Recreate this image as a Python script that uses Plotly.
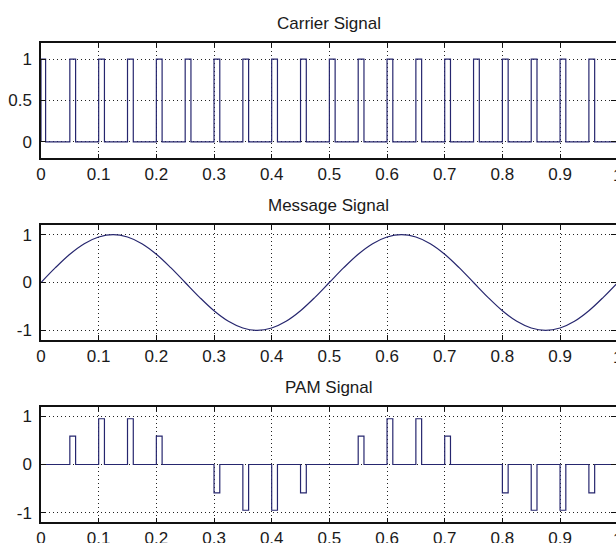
import plotly.graph_objects as go

# Carrier: rectangular pulse train (start / end of each pulse, unit height)
PULSE_START = [0.00, 0.05, 0.10, 0.15, 0.20, 0.25, 0.30, 0.35, 0.40, 0.45,
               0.50, 0.55, 0.60, 0.65, 0.70, 0.75, 0.80, 0.85, 0.90, 0.95]
PULSE_END = [0.008, 0.06, 0.11, 0.16, 0.21, 0.26, 0.31, 0.36, 0.41, 0.46,
             0.51, 0.56, 0.61, 0.66, 0.71, 0.76, 0.81, 0.86, 0.91, 0.96]
CARRIER_AMP = [1.0] * len(PULSE_START)

# Message signal samples
MSG_T = [0.000, 0.025, 0.050, 0.075, 0.100, 0.125, 0.150, 0.175, 0.200, 0.225,
         0.250, 0.275, 0.300, 0.325, 0.350, 0.375, 0.400, 0.425, 0.450, 0.475,
         0.500, 0.525, 0.550, 0.575, 0.600, 0.625, 0.650, 0.675, 0.700, 0.725,
         0.750, 0.775, 0.800, 0.825, 0.850, 0.875, 0.900, 0.925, 0.950, 0.975,
         1.000]
MSG_V = [0.00, 0.31, 0.59, 0.81, 0.95, 1.00, 0.95, 0.81, 0.59, 0.31,
         0.00, -0.31, -0.59, -0.81, -0.95, -1.00, -0.95, -0.81, -0.59, -0.31,
         0.00, 0.31, 0.59, 0.81, 0.95, 1.00, 0.95, 0.81, 0.59, 0.31,
         0.00, -0.31, -0.59, -0.81, -0.95, -1.00, -0.95, -0.81, -0.59, -0.31,
         0.00]

# PAM: flat-top pulse heights, one per carrier pulse
PAM_AMP = [0.00, 0.59, 0.95, 0.95, 0.59, 0.00, -0.59, -0.95, -0.95, -0.59,
           0.00, 0.59, 0.95, 0.95, 0.59, 0.00, -0.59, -0.95, -0.95, -0.59]

X_TICKS = [0, 0.1, 0.2, 0.3, 0.4, 0.5, 0.6, 0.7, 0.8, 0.9, 1.0]
X_LABELS = ["0", "0.1", "0.2", "0.3", "0.4", "0.5", "0.6", "0.7", "0.8", "0.9", "1"]

TITLES = ["Carrier Signal", "Message Signal", "PAM Signal"]
Y_TICKS = [[0, 0.5, 1], [-1, 0, 1], [-1, 0, 1]]
Y_LABELS = [["0", "0.5", "1"], ["-1", "0", "1"], ["-1", "0", "1"]]
Y_RANGES = [[-0.2, 1.2], [-1.2, 1.2], [-1.2, 1.2]]

# the window ends just short of t = 1, so the last tick sits at the page edge
X_VIEW_END = 0.997


def pulse_path(starts, ends, amps, t0=0.0, t1=1.0):
    xs, ys = [t0], [0.0]
    for s, e, a in zip(starts, ends, amps):
        xs += [s, s, e, e]
        ys += [0.0, a, a, 0.0]
    xs.append(t1)
    ys.append(0.0)
    return xs, ys


LINE_COLOR = "#26266e"
TEXT_COLOR = "#1a1a1a"
FONT = "Liberation Sans, Arial, sans-serif"

fig = go.Figure()

cx, cy = pulse_path(PULSE_START, PULSE_END, CARRIER_AMP)
fig.add_trace(go.Scatter(x=cx, y=cy, mode="lines", xaxis="x", yaxis="y",
                         line=dict(color=LINE_COLOR, width=1.2)))

fig.add_trace(go.Scatter(x=MSG_T, y=MSG_V, mode="lines", xaxis="x2", yaxis="y2",
                         line=dict(color=LINE_COLOR, width=1.2, shape="spline",
                                   smoothing=1.0)))

px_, py_ = pulse_path(PULSE_START, PULSE_END, PAM_AMP)
fig.add_trace(go.Scatter(x=px_, y=py_, mode="lines", xaxis="x3", yaxis="y3",
                         line=dict(color=LINE_COLOR, width=1.2)))

H = 543.0
# vertical pixel extents (top, bottom) of each panel
PANELS = [(42.7, 158.3), (225.0, 340.0), (406.7, 522.3)]

axis_common = dict(
    ticks="inside", ticklen=5, tickcolor="#111", tickwidth=1,
    showline=True, linecolor="#111", linewidth=1.5, mirror="ticks",
    showgrid=True, gridcolor="#222", gridwidth=1, griddash="1px,3px",
    zeroline=False, automargin=False,
    tickfont=dict(family=FONT, size=17, color=TEXT_COLOR),
)

layout = dict(
    width=616, height=543,
    margin=dict(l=41, r=0, t=0, b=0),
    paper_bgcolor="white", plot_bgcolor="white",
    showlegend=False, template="none",
    annotations=[],
)

for i, (top, bot) in enumerate(PANELS):
    sfx = "" if i == 0 else str(i + 1)
    dom = [1 - bot / H, 1 - top / H]
    layout["xaxis" + sfx] = dict(
        axis_common, domain=[0, 1], range=[0, X_VIEW_END], anchor="y" + sfx,
        tickvals=X_TICKS, ticktext=X_LABELS, ticklabelstandoff=0,
    )
    layout["yaxis" + sfx] = dict(
        axis_common, domain=dom, range=Y_RANGES[i], anchor="x" + sfx,
        tickvals=Y_TICKS[i], ticktext=Y_LABELS[i], ticklabelstandoff=4,
    )
    layout["annotations"].append(dict(
        text=TITLES[i], xref="paper", yref="paper", x=0.5, y=dom[1],
        xanchor="center", yanchor="bottom", yshift=8, showarrow=False,
        font=dict(family=FONT, size=17, color=TEXT_COLOR),
    ))
    # label for the final tick, half past the right page edge
    layout["annotations"].append(dict(
        text=X_LABELS[-1], xref="paper", yref="paper",
        x=X_TICKS[-1] / X_VIEW_END, y=dom[0],
        xanchor="center", yanchor="middle", yshift=-17, showarrow=False,
        font=dict(family=FONT, size=17, color=TEXT_COLOR),
    ))

fig.update_layout(**layout)
fig.write_html("out.html")
